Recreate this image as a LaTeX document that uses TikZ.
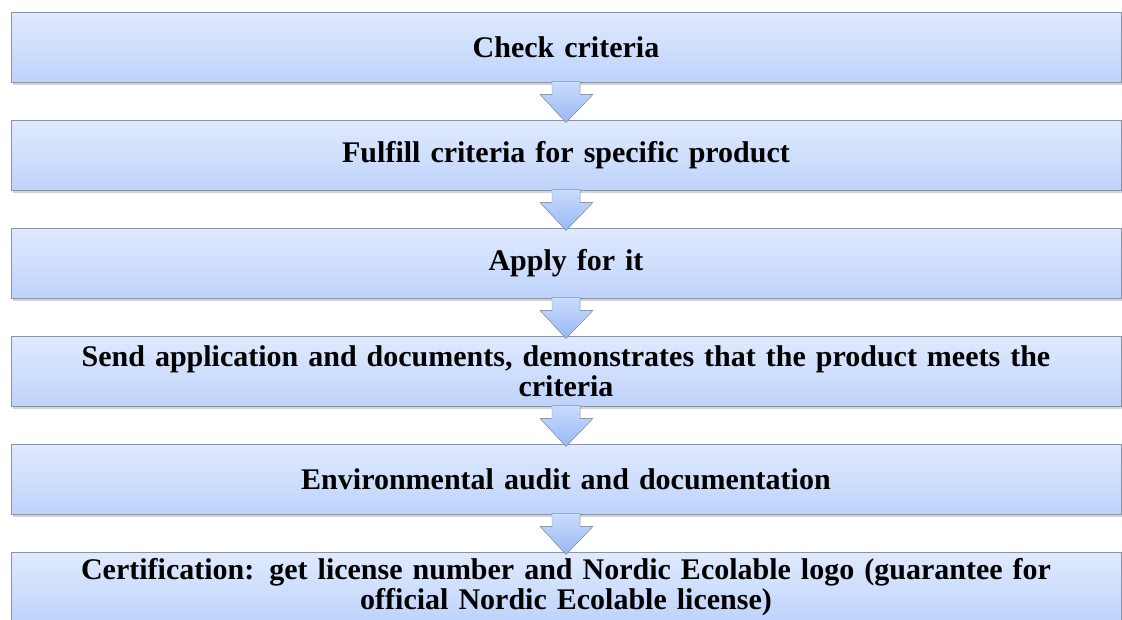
\documentclass[tikz,border=0pt]{standalone}
\usepackage{fontspec}
\setmainfont{Liberation Serif}
\usetikzlibrary{shadows,positioning}
\definecolor{boxtop}{HTML}{E0EAFD}
\definecolor{boxbottom}{HTML}{BED3FB}
\definecolor{boxline}{HTML}{8A94A4}
\definecolor{arrowtop}{HTML}{CADCFC}
\definecolor{arrowbottom}{HTML}{98B8F4}
\tikzset{
	downarrow/.pic={
			\fill[top color=arrowtop, bottom color=arrowbottom]
			(-14,-1) --
			(-14,12) --
			(-26,12) --
			(0,40) --
			(27,12) --
			(14,12) --
			(14,-1) --
			cycle;
			\draw[boxline, line join=miter]
			(-14,0) --
			(-14,12) --
			(-26,12) --
			(0,40) --
			(27,12) --
			(14,12) --
			(14,0);
		}
}
\tikzset{
	stepbox/.style={draw=boxline, line width=0.8pt, top color=boxtop, bottom color=boxbottom,
			minimum width=1110pt, minimum height=70pt, text width=1080pt, align=center, inner sep=0pt,
			font=\bfseries\fontsize{30}{30}\selectfont,
			drop shadow={shadow xshift=2pt, shadow yshift=-3pt, opacity=0.35}}
}

\begin{document}
\begin{tikzpicture}[x=1pt, y=-1pt]

	\useasboundingbox (0,0) rectangle (1122,619);
	\clip (0,0) rectangle (1122,619);

	\begin{scope}
		\node[stepbox] (s1) at (566,47) {Check criteria};
		\node[stepbox] (s2) at (566,155) {Fulfill criteria for specific product};
		\node[stepbox] (s3) at (566,263) {Apply for it};
		\node[stepbox] (s4) at (566,371) {Send application and documents, demonstrates that the product meets the\\ criteria};
		\node[stepbox] (s5) at (566,479) {Environmental audit and documentation};
		\node[stepbox] (s6) at (566,587) {Certification: get license number and Nordic Ecolable logo (guarantee for\\ official Nordic Ecolable license)};
	\end{scope}

	\begin{scope}
		\pic at (s1.south) {downarrow};
		\pic at (s2.south) {downarrow};
		\pic at (s3.south) {downarrow};
		\pic at (s4.south) {downarrow};
		\pic at (s5.south) {downarrow};
	\end{scope}

\end{tikzpicture}
\end{document}
